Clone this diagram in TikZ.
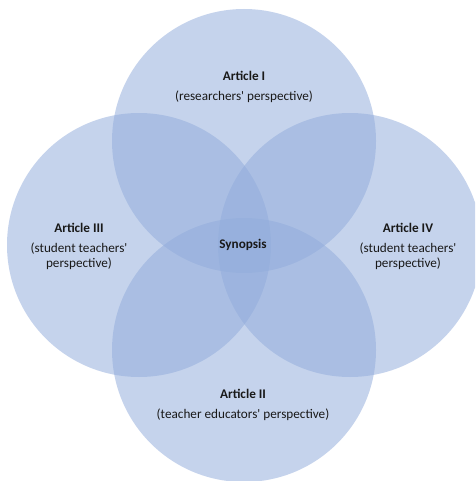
\documentclass[tikz,border=0pt]{standalone}
\usepackage{fontspec}
\setmainfont{Carlito}
\begin{document}
\begin{tikzpicture}[x=1pt,y=-1pt,
  venn/.style={fill=vennblue,fill opacity=0.53,draw=none},
  lbl/.style={text=black!90,font=\fontsize{13.2}{15}\selectfont,align=center,inner sep=0pt},
  ttl/.style={lbl,font=\fontsize{13.2}{15}\selectfont\bfseries}]
\definecolor{vennblue}{RGB}{146,172,219}
\useasboundingbox (0,0) rectangle (475,481);
\begin{scope}
\clip (0,0) rectangle (475,481);
\fill[venn] (244,141) circle (132);
\fill[venn] (139,245) circle (132);
\fill[venn] (350,245) circle (132);
\fill[venn] (244,350) circle (132);
\end{scope}
\node[ttl] (a1) at (244,76) {Article I};
\node[lbl] (a1p) at (244,97) {(researchers\textquotesingle{} perspective)};
\node[ttl] (a3) at (79,228) {Article III};
\node[lbl] (a3p) at (79,256) {(student teachers\textquotesingle\\perspective)};
\node[ttl] (a4) at (408,228) {Article IV};
\node[lbl] (a4p) at (408,256) {(student teachers\textquotesingle\\perspective)};
\node[ttl] (syn) at (243,245) {Synopsis};
\node[ttl] (a2) at (243,394) {Article II};
\node[lbl] (a2p) at (243,415) {(teacher educators\textquotesingle{} perspective)};
\end{tikzpicture}
\end{document}
